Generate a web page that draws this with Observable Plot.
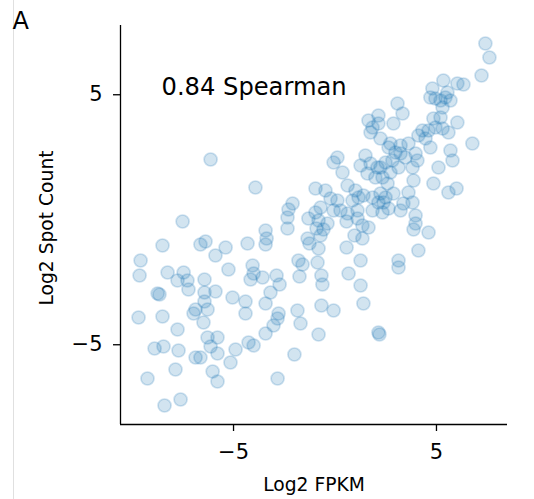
<!DOCTYPE html>
<html><head><meta charset="utf-8">
<script src="https://cdn.jsdelivr.net/npm/d3@7"></script>
<script src="https://cdn.jsdelivr.net/npm/@observablehq/plot@0.6"></script>
<style>
html,body{margin:0;padding:0;background:#fff;}
#wrap{position:relative;width:534px;height:499px;overflow:hidden;font-family:"DejaVu Sans",sans-serif;}
#edge{position:absolute;left:13px;top:0;width:1px;height:499px;background:#e0e0e0;}
#chart{position:absolute;left:0;top:0;}
</style></head><body>
<div id="wrap"><div id="edge"></div><div id="chart"></div></div>
<script>
const fpkm = [
 7.41, 7.61, 7.22, 5.34, 6.03, 6.33, 4.80, 4.70, 4.95, 5.20, 5.44, 5.69, 5.30, 5.54, 6.03, 6.77, 5.69, 5.79, 5.10, 4.85, 5.59, 5.99, 4.85, 5.20, 4.95, 5.30, 5.59, 4.61, 4.31, 4.11, 4.46, 4.70,
 3.08, 3.33, 2.88, 2.14, 2.14, 3.62, 2.64, 2.98, 3.23, 3.47, 3.97, 4.06, 2.83, 2.24, 2.73, 3.13, 3.82, 3.87, 2.34, 2.59, 2.88, 3.62, 3.82, 3.37, 2.49, 2.14, 3.23, 3.97, 2.64, 1.65, 1.85, 1.75, 2.24, 2.73, 3.23,
 0.12, -0.07, 0.37, 1.50, 1.75, 1.26, 2.09, 2.49, 1.99, 1.60, -0.96, -0.47, -0.22, 0.12, 0.62, 1.01, 1.16, 0.86, 1.40, 1.85, 2.24, 2.39, -0.71, -0.96, -0.07, 0.27, 0.62, 1.11, 1.85, 2.34, -1.31, -0.81, -0.37, 0.57, 1.11, 1.35, 1.65, -0.91, -0.57, -0.71, -1.35, -1.26, 0.96, 1.35, 0.57, -0.81,
 3.97, 3.87, 4.61, 4.11, 3.13, 3.13, 2.14, 2.19,
 -1.80, -1.60, -1.75, -0.86, -0.67, -0.62, 1.26, 0.67, 1.26, 1.40, -0.67, -0.07, -1.85, -1.70, -0.81, -2.00, -2.83,
 -3.92, -2.09, -2.29, -2.34, -2.34, -3.42, -3.37, -3.42, -4.31, -5.39, -4.06, -4.01, -4.16, -3.57, -2.88, -2.73, -3.18, -3.42, -4.41, -4.41, -2.78, -2.83, -3.03, -3.42, -4.26, -4.01, -5.25,
 -6.13, -7.51, -8.50, -6.63, -6.38, -5.89, -9.58, -9.63, -8.25, -7.46, -7.76, -7.27, -7.22, -6.43, -8.74, -8.65, -6.43, -5.89, -6.43, -5.05, -6.87, -6.97, -6.28, -6.48, -9.68, -8.50, -7.76, -6.28, -5.79, -8.89, -8.45, -7.71, -6.87, -6.63, -6.13, -5.79, -4.90, -5.15, -7.86, -6.03, -5.79, -9.24, -7.61, -8.40
];
const spot = [
 7.05, 6.49, 5.77, 5.57, 5.45, 5.41, 5.25, 4.89, 4.85, 4.77, 4.89, 4.77, 4.49, 5.09, 3.89, 3.05, 2.77, 2.37, 2.09, 1.45, 1.09, 1.25, 4.05, 4.09, 3.69, 3.65, 3.49, 3.57, 3.57, 3.37, 3.25, 2.89,
 4.65, 4.25, 3.85, 4.17, 3.85, 3.05, 2.89, 2.69, 2.65, 2.49, 2.65, 2.37, 2.37, 2.09, 1.89, 2.09, 2.09, 1.57, 1.69, 1.45, 1.05, 1.09, 0.69, 0.65, 0.89, 0.69, 0.37, 0.17, 0.45, 3.97, 3.69, 3.49, 3.25, 3.05, 2.97,
 2.49, 2.29, 1.89, 2.57, 2.25, 2.17, 2.09, 2.29, 1.69, 1.85, 1.25, 1.17, 0.85, 0.77, 1.37, 1.17, 0.89, 0.77, 0.97, 0.89, 1.05, 0.69, 0.49, 0.29, 0.37, 0.37, 0.25, 0.37, 0.37, 0.29, 0.05, -0.03, -0.15, -0.07, 0.05, -0.23, -0.31, -0.35, -0.39, -0.63, -0.75, -0.95, -0.63, -0.75, -1.11, -1.15,
 -0.15, -0.39, -0.51, -1.23, -1.63, -1.91, -4.51, -4.59,
 -1.63, -1.79, -2.27, -1.71, -2.23, -2.59, -1.63, -2.15, -2.63, -3.35, -3.43, -3.63, -3.63, -4.15, -4.59, -5.39, -6.35,
 1.29, 0.65, 0.41, 0.09, -0.35, -0.43, -0.75, -0.99, -0.95, -1.11, -1.83, -2.15, -2.39, -2.31, -2.23, -2.59, -2.91, -3.35, -3.27, -3.75, -3.75, -3.95, -4.23, -4.55, -4.91, -5.03, -1.99,
 2.41, -0.07, -1.03, -0.99, -0.87, -1.43, -1.63, -2.23, -2.11, -2.11, -2.43, -2.43, -2.79, -2.39, -2.95, -2.99, -2.91, -2.87, -3.27, -3.11, -3.59, -3.75, -3.59, -4.11, -3.91, -3.87, -4.39, -4.71, -4.71, -5.15, -5.07, -5.23, -5.51, -5.51, -5.07, -5.35, -5.19, -5.71, -5.99, -6.07, -6.47, -6.35, -7.19, -7.43
];
const xTicks = [-5, 5];
const yTicks = [-5, 5];
const xDomain = [-10.57, 8.50];
const yDomain = [-8.19, 7.77];
const annotation = {x: -8.55, y: 5, text: "0.84 Spearman"};
const xLabel = "Log2 FPKM";
const yLabel = "Log2 Spot Count";
const panelLabel = "A";

const data = fpkm.map((x, i) => ({x, y: spot[i]}));
const blue = "#1f77b4";

const chart = Plot.plot({
  width: 534,
  height: 499,
  marginLeft: 120,
  marginRight: 27,
  marginTop: 25,
  marginBottom: 75,
  style: {fontFamily: "'DejaVu Sans', sans-serif", background: "transparent", color: "#000"},
  x: {domain: xDomain},
  y: {domain: yDomain},
  marks: [
    Plot.dot(data, {x: "x", y: "y", r: 6.5, fill: blue, fillOpacity: 0.2, stroke: blue, strokeOpacity: 0.22, strokeWidth: 1.7}),
    Plot.ruleX([xDomain[0]], {stroke: "#000", strokeWidth: 1.3}),
    Plot.ruleY([yDomain[0]], {stroke: "#000", strokeWidth: 1.3}),
    Plot.axisX({ticks: xTicks, tickSize: 7, tickPadding: 13, fontSize: 21, label: null, stroke: "#000", strokeWidth: 1.3, fill: "#000"}),
    Plot.axisY({ticks: yTicks, tickSize: 7, tickPadding: 11, fontSize: 21, label: null, stroke: "#000", strokeWidth: 1.3, fill: "#000"}),
    Plot.text([xLabel], {frameAnchor: "bottom", dy: 66, textAnchor: "middle", lineAnchor: "bottom", fontSize: 18.7, fill: "#000"}),
    Plot.text([yLabel], {frameAnchor: "left", dx: -67.5, dy: 3, rotate: -90, textAnchor: "middle", lineAnchor: "bottom", fontSize: 18.7, fill: "#000"}),
    Plot.text([annotation], {x: "x", y: "y", text: "text", textAnchor: "start", lineAnchor: "bottom", fontSize: 24.2, fill: "#000"}),
    Plot.text([panelLabel], {frameAnchor: "top-left", dx: -108, dy: 3, textAnchor: "start", lineAnchor: "bottom", fontSize: 24, fill: "#000"})
  ]
});
document.getElementById("chart").appendChild(chart);
</script>
</body></html>
